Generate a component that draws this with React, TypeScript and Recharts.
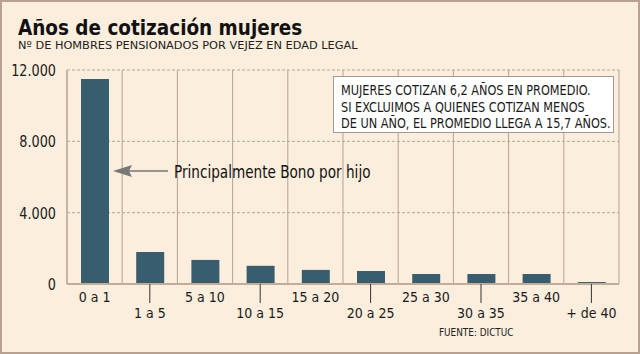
import React from 'react';
import { BarChart, Bar, XAxis, YAxis, CartesianGrid } from 'recharts';

const categories = ['0 a 1', '1 a 5', '5 a 10', '10 a 15', '15 a 20', '20 a 25', '25 a 30', '30 a 35', '35 a 40', '+ de 40'];
const pensionados = [11500, 1800, 1350, 1020, 790, 730, 560, 560, 560, 110];
const yTicks = [0, 4000, 8000, 12000];

const FONT = '"DejaVu Sans Condensed", "DejaVu Sans", sans-serif';
const BG = '#fbeedd';
const BAR = '#385d6e';

const data = categories.map((c, i) => ({ rango: c, valor: pensionados[i] }));

const fmt = (v: number) => v.toLocaleString('de-DE');

const XTick = ({ x, y, payload, index }: any) => {
    const low = index % 2 === 1;
    return (
        <g>
            {low && <line x1={x} x2={x} y1={y - 8} y2={y + 11} stroke="#333" strokeWidth={1} />}
            <text x={x} y={low ? y + 26 : y + 10} textAnchor="middle" fontSize={14} fill="#1a1a1a" fontFamily={FONT}>
                {payload.value}
            </text>
        </g>
    );
};

const YTick = ({ x, y, payload }: any) => (
    <text
        transform={`translate(${x - 3},${y + 6}) scale(0.95,1)`}
        textAnchor="end"
        fontSize={15}
        fill="#1a1a1a"
        fontFamily={FONT}
    >
        {fmt(payload.value)}
    </text>
);

const squeeze = (s: number): React.CSSProperties => ({
    transform: `scaleX(${s})`,
    transformOrigin: 'left top',
    whiteSpace: 'nowrap',
});

export default function App() {
    const W = 640;
    const H = 354;
    return (
        <div
            style={{
                position: 'absolute',
                left: 0,
                top: 0,
                width: W,
                height: H,
                boxSizing: 'border-box',
                background: BG,
                border: '2px solid #b9a191',
                fontFamily: FONT,
            }}
        >
            <div
                style={{
                    position: 'absolute',
                    left: 16,
                    top: 15,
                    fontSize: 22,
                    lineHeight: '22px',
                    fontWeight: 'bold',
                    color: '#111',
                    ...squeeze(0.93),
                }}
            >
                Años de cotización mujeres
            </div>
            <div
                style={{
                    position: 'absolute',
                    left: 16,
                    top: 38,
                    fontSize: 11,
                    lineHeight: '11px',
                    color: '#222',
                    fontFamily: '"DejaVu Sans", sans-serif',
                    ...squeeze(1.03),
                }}
            >
                Nº DE HOMBRES PENSIONADOS POR VEJEZ EN EDAD LEGAL
            </div>
            <div style={{ position: 'absolute', left: -2, top: -2 }}>
                <BarChart width={W} height={H} data={data} margin={{ top: 70, right: 21, left: 0, bottom: 0 }}>
                    <CartesianGrid horizontal={true} vertical={false} strokeDasharray="3 2" stroke="#b3a699" />
                    <CartesianGrid
                        horizontal={false}
                        vertical={true}
                        stroke="#b3a393"
                        verticalCoordinatesGenerator={({ offset }: any) =>
                            categories.map((_, i) => offset.left + ((i + 1) * offset.width) / categories.length)
                        }
                    />
                    <YAxis
                        width={67}
                        domain={[0, 12000]}
                        ticks={yTicks}
                        tick={<YTick />}
                        tickLine={false}
                        axisLine={{ stroke: '#c9b4a0', strokeWidth: 2 }}
                    />
                    <XAxis
                        dataKey="rango"
                        height={70}
                        interval={0}
                        tick={<XTick />}
                        tickLine={false}
                        axisLine={{ stroke: '#c2ab97', strokeWidth: 2 }}
                    />
                    <Bar dataKey="valor" fill={BAR} barSize={28} isAnimationActive={false} />
                </BarChart>
            </div>
            <svg style={{ position: 'absolute', left: -2, top: -2 }} width={W} height={H}>
                <line x1={168} y1={171} x2={124} y2={171} stroke="#777" strokeWidth={1.5} />
                <polygon points="113,171 132,165 129,171 132,177" fill="#777" />
            </svg>
            <div style={{ position: 'absolute', left: 172, top: 159, fontSize: 18, color: '#111', ...squeeze(0.84) }}>
                Principalmente Bono por hijo
            </div>
            <div
                style={{
                    position: 'absolute',
                    left: 331,
                    top: 74,
                    width: 281,
                    height: 57,
                    boxSizing: 'border-box',
                    background: '#fff',
                    border: '1px solid #a09a94',
                }}
            >
                <div
                    style={{
                        position: 'absolute',
                        left: 7,
                        top: 5,
                        fontSize: 13.5,
                        lineHeight: '16.5px',
                        color: '#1a1a1a',
                        ...squeeze(0.93),
                    }}
                >
                    MUJERES COTIZAN 6,2 AÑOS EN PROMEDIO.
                    <br />
                    SI EXCLUIMOS A QUIENES COTIZAN MENOS
                    <br />
                    DE UN AÑO, EL PROMEDIO LLEGA A 15,7 AÑOS.
                </div>
            </div>
            <div style={{ position: 'absolute', left: 437, top: 324, fontSize: 10.5, color: '#222', ...squeeze(0.94) }}>
                FUENTE: DICTUC
            </div>
        </div>
    );
}
